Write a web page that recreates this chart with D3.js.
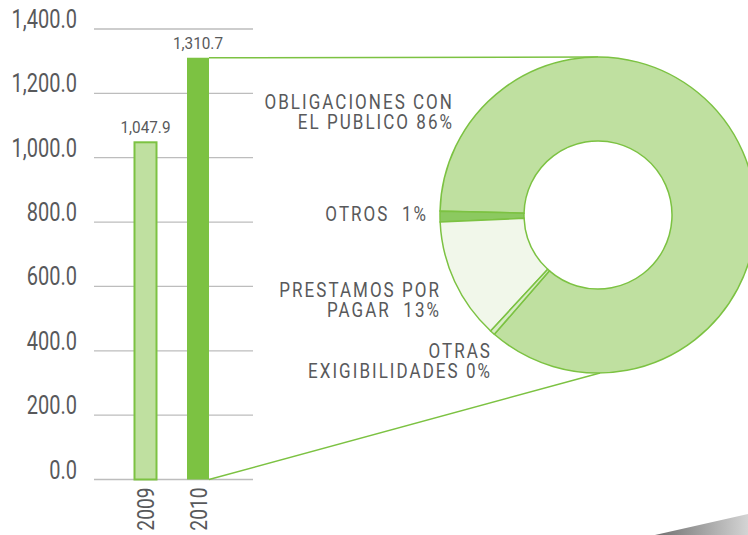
<!DOCTYPE html>
<html>
<head>
<meta charset="utf-8">
<script src="https://cdn.jsdelivr.net/npm/d3@7"></script>
<style>
  body { margin: 0; background: #fff; }
  text { font-family: "Roboto", "Liberation Sans", sans-serif; fill: #58595b; white-space: pre; }
</style>
</head>
<body>
<div id="chart"></div>
<script>
// bar data
let years = ["2009", "2010"]
let totals = [1047.9, 1310.7]
let yTicks = [0, 200, 400, 600, 800, 1000, 1200, 1400]

// donut data (2010 breakdown)
let parts = ["OBLIGACIONES CON|EL PUBLICO 86%", "OTROS  1%", "PRESTAMOS POR|PAGAR  13%", "OTRAS|EXIGIBILIDADES 0%"]
let shares = [86.0, 1.1, 12.4, 0.5]

let green = "#7cc242"
let partColors = ["#bfe0a0", "#8cc960", "#f1f7ea", "#d6ecc4"]

let width = 748,
    height = 535,
    narrow = 0.8 // squeeze Roboto to look like the condensed face

let svg = d3.select("#chart")
    .append("svg")
    .attr("width", width)
    .attr("height", height)

// scales
let y = d3.scaleLinear()
    .domain([0, 1400])
    .range([479.5, 29])
let x = d3.scalePoint()
    .domain(years)
    .range([145.5, 198])
let barW = 22

// donut geometry
let cx = 598, cy = 215, rOut = 158, rIn = 74

// grid lines
svg.selectAll("grid")
    .data(yTicks)
    .enter()
    .append("line")
    .attr("x1", 94)
    .attr("x2", 253)
    .attr("y1", (d) => y(d))
    .attr("y2", (d) => y(d))
    .attr("stroke", "#bdbdbd")
    .attr("stroke-width", 1.3)

// tick labels
svg.selectAll("ticks")
    .data(yTicks)
    .enter()
    .append("text")
    .attr("transform", (d) => "translate(77," + (y(d) - 1) + ") scale(" + narrow + ",1)")
    .attr("text-anchor", "end")
    .style("font-size", "25px")
    .text((d) => d3.format(",.1f")(d))

// connector lines to the donut
let last = totals.length - 1
svg.append("line")
    .attr("x1", x(years[last]) + barW / 2)
    .attr("y1", y(totals[last]))
    .attr("x2", cx)
    .attr("y2", cy - rOut)
    .attr("stroke", green)
    .attr("stroke-width", 1.5)
svg.append("line")
    .attr("x1", x(years[last]) + barW / 2)
    .attr("y1", y(0))
    .attr("x2", cx + 2)
    .attr("y2", cy + rOut)
    .attr("stroke", green)
    .attr("stroke-width", 1.5)

// bars
svg.selectAll("bars")
    .data(years)
    .enter()
    .append("rect")
    .attr("x", (d) => x(d) - barW / 2)
    .attr("y", (d, i) => y(totals[i]))
    .attr("width", barW)
    .attr("height", (d, i) => y(0) - y(totals[i]))
    .attr("fill", (d, i) => i == last ? green : "#bfe0a0")
    .attr("stroke", green)
    .attr("stroke-width", (d, i) => i == last ? 0 : 2)

// value labels
svg.selectAll("vals")
    .data(years)
    .enter()
    .append("text")
    .attr("transform", (d, i) => "translate(" + x(d) + "," + (y(totals[i]) - 9) + ") scale(0.9,1)")
    .attr("text-anchor", "middle")
    .style("font-size", "17px")
    .text((d, i) => d3.format(",.1f")(totals[i]))

// year labels
svg.selectAll("years")
    .data(years)
    .enter()
    .append("text")
    .attr("transform", (d) => "translate(" + (x(d) + 8.5) + "," + (y(0) + 8) + ") rotate(-90) scale(" + narrow + ",1)")
    .attr("text-anchor", "end")
    .style("font-size", "24px")
    .text((d) => d)

// donut
let toRad = Math.PI / 180
let pie = d3.pie()
    .sort(null)
    .value((d) => d)
    .startAngle(581 * toRad)
    .endAngle(221 * toRad)
let arc = d3.arc()
    .innerRadius(rIn)
    .outerRadius(rOut)

let donut = svg.append("g")
    .attr("transform", "translate(" + cx + "," + cy + ")")
donut.selectAll("slices")
    .data(pie(shares))
    .enter()
    .append("path")
    .attr("d", arc)
    .attr("fill", (d, i) => partColors[i])
    .attr("stroke", green)
    .attr("stroke-width", 1.5)

// donut labels
let labelPos = [[454, 109], [428, 221], [441, 297], [492, 358]]
parts.forEach((p, i) => {
    let t = svg.append("text")
        .attr("transform", "translate(" + labelPos[i][0] + "," + labelPos[i][1] + ") scale(0.85,1)")
        .attr("text-anchor", "end")
        .style("font-size", "20px")
        .style("letter-spacing", "2.4px")
    p.split("|").forEach((line, j) => {
        t.append("tspan")
            .attr("x", 0)
            .attr("dy", j == 0 ? 0 : 20.5)
            .text(line)
    })
})

// grey decoration in the corner
let grad = svg.append("defs").append("linearGradient")
    .attr("id", "fade")
    .attr("x1", "0").attr("x2", "1")
grad.append("stop").attr("offset", "0").attr("stop-color", "#6f6f6f")
grad.append("stop").attr("offset", "1").attr("stop-color", "#d4d4d4")
svg.append("path")
    .attr("d", "M655,535 L748,514 L748,535 Z")
    .attr("fill", "url(#fade)")
</script>
</body>
</html>
